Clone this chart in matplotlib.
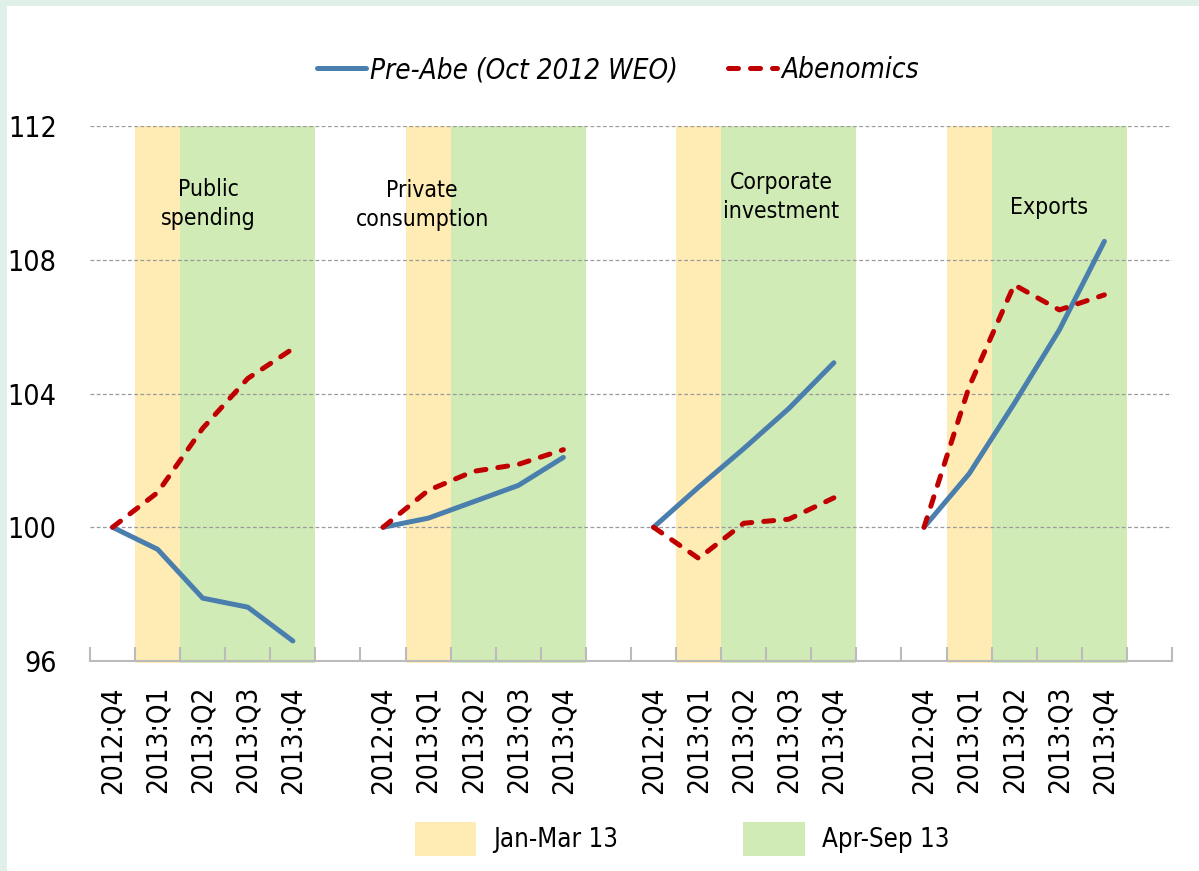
import matplotlib
matplotlib.use("Agg")
import matplotlib.pyplot as plt
from matplotlib.patches import Rectangle, Patch
from matplotlib.lines import Line2D
import numpy as np

FONT = ['Liberation Sans Narrow', 'DejaVu Sans']
plt.rcParams['font.family'] = FONT
plt.rcParams['font.stretch'] = 'condensed'

quarters = ["2012:Q4", "2013:Q1", "2013:Q2", "2013:Q3", "2013:Q4"]
groups = ["Public\nspending", "Private\nconsumption", "Corporate\ninvestment", "Exports"]
pre_abe = [
    [100, 99.34, 97.88, 97.61, 96.6],
    [100, 100.27, 100.76, 101.25, 102.09],
    [100, 101.2, 102.35, 103.55, 104.92],
    [100, 101.6, 103.7, 105.9, 108.55],
]
abenomics = [
    [100, 101.04, 102.96, 104.45, 105.34],
    [100, 101.1, 101.67, 101.88, 102.32],
    [100, 99.07, 100.12, 100.24, 100.88],
    [100, 104.2, 107.25, 106.5, 106.95],
]
yticks = [96, 100, 104, 108, 112]

# layout: group label anchor (x offset within group, y in data units)
label_pos = [(2.13, 109.67), (0.87, 109.64), (2.83, 109.88), (2.78, 109.55)]

BLUE = "#4A7EAD"
RED = "#C00000"
YELLOW = "#FFEBB4"
GREEN = "#D1EBB6"
GRID = "#9A9A9A"
LW = 3.6
DASH = (2.0, 2.4)

fig = plt.figure(figsize=(11.99, 8.71), dpi=100)
fig.patch.set_facecolor("#DFF0E8")
fig.patches.append(Rectangle((7/1199, 0), 1, 1 - 6/871, transform=fig.transFigure,
                             facecolor="white", edgecolor="none", zorder=-10))

ax = fig.add_axes([90/1199, 1 - 661/871, (1172-90)/1199, (661-126)/871])
ax.set_facecolor("none")
ax.set_xlim(-0.5, 23.5)
ax.set_ylim(96, 112)

n = len(quarters)
positions = []
labels = []
for g in range(len(groups)):
    start = g * (n + 1)
    xs = np.arange(start, start + n)
    ax.fill_between([start + 0.5, start + 1.5], 95.93, 112, color=YELLOW, lw=0, zorder=1, clip_on=False)
    ax.fill_between([start + 1.5, start + 4.5], 95.93, 112, color=GREEN, lw=0, zorder=1, clip_on=False)
    ax.plot(xs, pre_abe[g], color=BLUE, lw=LW, solid_capstyle='round', solid_joinstyle='round', zorder=4)
    ax.plot(xs, abenomics[g], color=RED, lw=LW, dashes=DASH, dash_capstyle='round',
            dash_joinstyle='round', zorder=5)
    lx, ly = label_pos[g]
    ax.text(start + lx, ly, groups[g], ha='center', va='center', fontsize=16.5,
            linespacing=1.35, zorder=6)
    positions.extend(xs)
    labels.extend(quarters)

for y in yticks[1:]:
    ax.axhline(y, color=GRID, lw=0.9, ls=(0, (3, 2)), zorder=2)

ax.set_xticks(positions)
ax.set_xticklabels(labels, rotation=90, fontsize=20)
ax.set_xticks(np.arange(-0.5, 24, 1), minor=True)
ax.tick_params(axis='x', which='major', length=0, pad=18)
ax.tick_params(axis='x', which='minor', length=10, direction='in', color="#BBBBBB", width=1.5)
ax.set_yticks(yticks)
ax.set_yticklabels([str(v) for v in yticks], fontsize=20.5)
ax.tick_params(axis='y', length=0, pad=24)

for s in ['left', 'right', 'top']:
    ax.spines[s].set_visible(False)
ax.spines['bottom'].set_color("#BBBBBB")
ax.spines['bottom'].set_linewidth(1.5)
ax.spines['bottom'].set_zorder(3)

h1 = Line2D([], [], color=BLUE, lw=LW, solid_capstyle='round')
h2 = Line2D([], [], color=RED, lw=LW, dashes=DASH, dash_capstyle='round')
fig.legend([h1, h2], ["Pre-Abe (Oct 2012 WEO)", "Abenomics"], loc='center',
           bbox_to_anchor=(618/1199, 1 - 70/871), ncol=2, frameon=False,
           prop={'family': FONT, 'style': 'italic', 'size': 20, 'stretch': 'condensed'},
           handlelength=1.75, handletextpad=0.15, columnspacing=1.8)

p1 = Patch(facecolor=YELLOW, edgecolor='none')
p2 = Patch(facecolor=GREEN, edgecolor='none')
fig.legend([p1, p2], ["Jan-Mar 13", "Apr-Sep 13"], loc='center',
           bbox_to_anchor=(682/1199, 1 - 839/871), ncol=2, frameon=False,
           prop={'family': FONT, 'size': 18.5, 'stretch': 'condensed'},
           handlelength=2.4, handleheight=1.6, handletextpad=0.66, columnspacing=4.85)

fig.savefig("out.png", dpi=100, facecolor=fig.get_facecolor())
